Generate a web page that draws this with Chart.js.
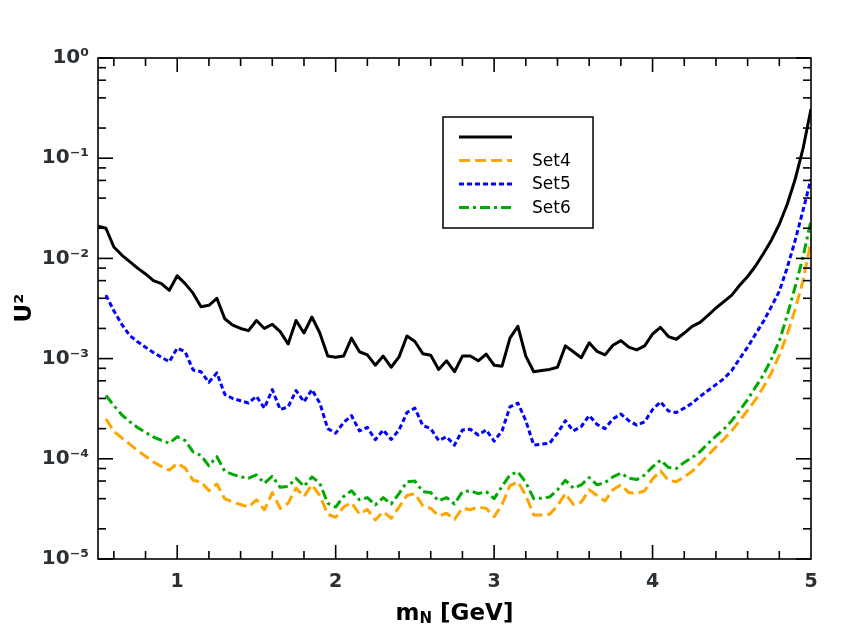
<!DOCTYPE html>
<html>
<head>
<meta charset="utf-8">
<script src="https://cdn.jsdelivr.net/npm/chart.js@4.4.0/dist/chart.umd.min.js"></script>
<style>
    html, body { margin: 0; padding: 0; background: #ffffff; }
    canvas { display: block; }
</style>
</head>
<body>
<canvas id="chart" width="848" height="642"></canvas>
<script>
"use strict";

// heavy neutrino mass grid [GeV]
const masses = [
    0.50, 0.55, 0.60, 0.65, 0.70, 0.75, 0.80, 0.85, 0.90, 0.95,
    1.00, 1.05, 1.10, 1.15, 1.20, 1.25, 1.30, 1.35, 1.40, 1.45,
    1.50, 1.55, 1.60, 1.65, 1.70, 1.75, 1.80, 1.85, 1.90, 1.95,
    2.00, 2.05, 2.10, 2.15, 2.20, 2.25, 2.30, 2.35, 2.40, 2.45,
    2.50, 2.55, 2.60, 2.65, 2.70, 2.75, 2.80, 2.85, 2.90, 2.95,
    3.00, 3.05, 3.10, 3.15, 3.20, 3.25, 3.30, 3.35, 3.40, 3.45,
    3.50, 3.55, 3.60, 3.65, 3.70, 3.75, 3.80, 3.85, 3.90, 3.95,
    4.00, 4.05, 4.10, 4.15, 4.20, 4.25, 4.30, 4.35, 4.40, 4.45,
    4.50, 4.55, 4.60, 4.65, 4.70, 4.75, 4.80, 4.85, 4.90, 4.95, 5.00
];

// unlabelled solid black curve
const limitBase = [
    0.021, 0.020, 0.013, 0.0108, 0.0093, 0.0080, 0.0070, 0.0060, 0.0056, 0.0048,
    0.0067, 0.0056, 0.0045, 0.0033, 0.0034, 0.0040, 0.0025, 0.00216, 0.0020, 0.0019,
    0.0024, 0.0020, 0.0022, 0.00186, 0.0014, 0.0024, 0.0018, 0.0026, 0.0018, 0.00106,
    0.00103, 0.00106, 0.0016, 0.00117, 0.00109, 0.00086, 0.00106, 0.00082, 0.00104, 0.00168,
    0.00148, 0.00112, 0.00108, 0.00078, 0.00095, 0.00074, 0.00106, 0.00106, 0.00095, 0.00111,
    0.00086, 0.00084, 0.0016, 0.0021, 0.00106, 0.00074, 0.00076, 0.00078, 0.00082, 0.00134,
    0.00117, 0.00102, 0.00144, 0.00118, 0.00109, 0.00136, 0.00151, 0.0013, 0.00122, 0.00134,
    0.00176, 0.00205, 0.00166, 0.00156, 0.0018, 0.0021, 0.0023, 0.0027, 0.0032, 0.0037,
    0.0043, 0.0054, 0.0066, 0.0084, 0.0112, 0.0152, 0.0219, 0.0347, 0.0616, 0.125, 0.31
];

const limitSet4 = [
    null, 2.5e-4, 1.88e-4, 1.62e-4, 1.4e-4, 1.21e-4, 1.06e-4, 9.3e-5, 8.4e-5, 7.7e-5,
    9.0e-5, 8.1e-5, 6.1e-5, 5.9e-5, 4.8e-5, 5.6e-5, 4.0e-5, 3.7e-5, 3.5e-5, 3.3e-5,
    3.9e-5, 3.1e-5, 4.6e-5, 3.2e-5, 3.6e-5, 5.1e-5, 4.2e-5, 5.5e-5, 4.3e-5, 2.8e-5,
    2.6e-5, 3.3e-5, 3.65e-5, 2.8e-5, 3.13e-5, 2.45e-5, 2.96e-5, 2.55e-5, 3.3e-5, 4.3e-5,
    4.5e-5, 3.4e-5, 3.2e-5, 2.69e-5, 2.86e-5, 2.49e-5, 3.2e-5, 3.1e-5, 3.3e-5, 3.2e-5,
    2.64e-5, 3.5e-5, 5.4e-5, 5.9e-5, 4.3e-5, 2.75e-5, 2.75e-5, 2.8e-5, 3.4e-5, 4.5e-5,
    3.5e-5, 3.7e-5, 4.9e-5, 4.3e-5, 3.8e-5, 4.9e-5, 5.5e-5, 4.6e-5, 4.5e-5, 4.8e-5,
    6.3e-5, 7.6e-5, 6.1e-5, 5.9e-5, 6.6e-5, 7.5e-5, 9.0e-5, 1.09e-4, 1.31e-4, 1.57e-4,
    1.91e-4, 2.4e-4, 3.05e-4, 3.9e-4, 5.2e-4, 7.2e-4, 1.08e-3, 1.75e-3, 3.1e-3, 6.0e-3, 1.5e-2
];

const limitSet5 = [
    null, 4.3e-3, 3.0e-3, 2.2e-3, 1.7e-3, 1.47e-3, 1.3e-3, 1.15e-3, 1.03e-3, 9.3e-4,
    1.27e-3, 1.17e-3, 7.7e-4, 7.4e-4, 5.8e-4, 7.2e-4, 4.4e-4, 4.0e-4, 3.8e-4, 3.6e-4,
    4.2e-4, 3.2e-4, 4.9e-4, 3.1e-4, 3.3e-4, 4.8e-4, 3.7e-4, 4.9e-4, 3.6e-4, 2.0e-4,
    1.8e-4, 2.3e-4, 2.7e-4, 1.9e-4, 2.06e-4, 1.55e-4, 1.94e-4, 1.56e-4, 1.94e-4, 2.9e-4,
    3.2e-4, 2.15e-4, 2.0e-4, 1.52e-4, 1.66e-4, 1.37e-4, 1.94e-4, 1.97e-4, 1.73e-4, 1.94e-4,
    1.5e-4, 1.9e-4, 3.3e-4, 3.6e-4, 2.4e-4, 1.37e-4, 1.4e-4, 1.43e-4, 1.8e-4, 2.4e-4,
    1.9e-4, 2.1e-4, 2.7e-4, 2.2e-4, 2.0e-4, 2.5e-4, 2.8e-4, 2.4e-4, 2.17e-4, 2.34e-4,
    3.1e-4, 3.7e-4, 3.0e-4, 2.9e-4, 3.2e-4, 3.6e-4, 4.2e-4, 4.8e-4, 5.5e-4, 6.3e-4,
    7.6e-4, 1.0e-3, 1.3e-3, 1.76e-3, 2.35e-3, 3.3e-3, 4.7e-3, 8.1e-3, 1.51e-2, 3.03e-2, 6.2e-2
];

const limitSet6 = [
    null, 4.3e-4, 3.4e-4, 2.75e-4, 2.35e-4, 2.05e-4, 1.83e-4, 1.65e-4, 1.53e-4, 1.43e-4,
    1.66e-4, 1.52e-4, 1.17e-4, 1.08e-4, 8.5e-5, 1.05e-4, 7.5e-5, 7.0e-5, 6.6e-5, 6.4e-5,
    6.9e-5, 5.7e-5, 6.7e-5, 5.2e-5, 5.3e-5, 6.4e-5, 5.3e-5, 6.6e-5, 5.7e-5, 3.6e-5,
    3.3e-5, 4.2e-5, 4.8e-5, 3.9e-5, 4.1e-5, 3.46e-5, 4.1e-5, 3.54e-5, 4.5e-5, 5.9e-5,
    6.0e-5, 4.7e-5, 4.6e-5, 3.8e-5, 4.1e-5, 3.54e-5, 4.7e-5, 4.8e-5, 4.5e-5, 4.7e-5,
    4.0e-5, 5.3e-5, 6.9e-5, 7.4e-5, 5.8e-5, 4.0e-5, 4.05e-5, 4.15e-5, 4.9e-5, 6.1e-5,
    5.1e-5, 5.5e-5, 6.5e-5, 5.5e-5, 5.8e-5, 6.6e-5, 7.2e-5, 6.4e-5, 6.2e-5, 6.9e-5,
    8.3e-5, 9.7e-5, 8.2e-5, 8.0e-5, 9.2e-5, 1.03e-4, 1.18e-4, 1.42e-4, 1.68e-4, 1.98e-4,
    2.4e-4, 3.05e-4, 3.9e-4, 5.2e-4, 6.9e-4, 9.9e-4, 1.5e-3, 2.7e-3, 5.2e-3, 1.04e-2, 2.4e-2
];

const seriesLabels = ['', 'Set4', 'Set5', 'Set6'];
const xTickValues = [1, 2, 3, 4, 5];
const yTickValues = [1e-5, 1e-4, 1e-3, 1e-2, 1e-1, 1];

const textColor = '#2b3035';

const toPoints = (ys) => masses.map((m, i) => ({x: m, y: ys[i]}));

const superDigits = {'0': '\u2070', '1': '\u00B9', '2': '\u00B2', '3': '\u00B3', '4': '\u2074',
    '5': '\u2075', '6': '\u2076', '7': '\u2077', '8': '\u2078', '9': '\u2079', '-': '\u207B'};
const powerLabel = (v) => {
    const exp = String(Math.round(Math.log10(v)));
    return '10' + exp.split('').map(c => superDigits[c]).join('');
};

// box frame plus inward ticks on all four sides
const frameTicks = {
    id: 'frameTicks',
    afterDraw(chart) {
        const {ctx, chartArea: {left, right, top, bottom}} = chart;
        const xs = chart.scales.x, ys = chart.scales.y;
        ctx.save();
        ctx.strokeStyle = '#000';
        ctx.lineWidth = 1.6;
        const seg = (x1, y1, x2, y2) => {
            ctx.beginPath(); ctx.moveTo(x1, y1); ctx.lineTo(x2, y2); ctx.stroke();
        };
        // x ticks: majors at integers, minors every 0.2
        for (let k = 3; k < 25; k++) {
            const v = k / 5;
            const major = k % 5 === 0;
            const len = major ? 14 : 8;
            const px = xs.getPixelForValue(v);
            seg(px, bottom, px, bottom - len);
            seg(px, top, px, top + len);
        }
        // y ticks: majors at decades, minors at 2,4,6,8
        for (let d = -5; d <= 0; d++) {
            [1, 2, 4, 6, 8].forEach(m => {
                const v = m * Math.pow(10, d);
                if (v > 1) return;
                const len = m === 1 ? 15 : 8;
                const py = ys.getPixelForValue(v);
                seg(left, py, left + len, py);
                seg(right, py, right - len, py);
            });
        }
        ctx.strokeRect(left, top, right - left, bottom - top);
        ctx.restore();
    }
};

// axis titles with sub/superscripts
const axisTitles = {
    id: 'axisTitles',
    afterDraw(chart) {
        const {ctx, chartArea: {left, right}} = chart;
        ctx.save();
        ctx.fillStyle = '#000';
        ctx.textBaseline = 'alphabetic';
        const big = 'bold 23px "DejaVu Sans", sans-serif';
        const small = 'bold 15px "DejaVu Sans", sans-serif';
        ctx.font = big;
        const wM = ctx.measureText('m').width;
        const wRest = ctx.measureText(' [GeV]').width;
        ctx.font = small;
        const wN = ctx.measureText('N').width;
        let x0 = (left + right) / 2 - (wM + wN + wRest) / 2;
        const base = 620;
        ctx.font = big;
        ctx.fillText('m', x0, base);
        ctx.font = small;
        ctx.fillText('N', x0 + wM, base + 3);
        ctx.font = big;
        ctx.fillText(' [GeV]', x0 + wM + wN, base);

        ctx.translate(31, 308);
        ctx.rotate(-Math.PI / 2);
        ctx.textAlign = 'center';
        ctx.fillText('U\u00B2', 0, 0);
        ctx.restore();
    }
};

// boxed legend inside the plot
const boxLegend = {
    id: 'boxLegend',
    afterDraw(chart) {
        const {ctx} = chart;
        ctx.save();
        ctx.fillStyle = '#fff';
        ctx.fillRect(443, 117, 150, 111);
        ctx.strokeStyle = '#000';
        ctx.lineWidth = 1.5;
        ctx.strokeRect(443, 117, 150, 111);
        const rows = [137, 160.5, 184, 207.5];
        chart.data.datasets.forEach((ds, i) => {
            ctx.strokeStyle = ds.borderColor;
            ctx.lineWidth = ds.borderWidth;
            ctx.setLineDash(ds.borderDash || []);
            ctx.beginPath();
            ctx.moveTo(459, rows[i]);
            ctx.lineTo(512, rows[i]);
            ctx.stroke();
            ctx.setLineDash([]);
            ctx.fillStyle = '#000';
            ctx.font = '17px "DejaVu Sans", sans-serif';
            ctx.textBaseline = 'middle';
            ctx.fillText(ds.label, 532, rows[i] + 1);
        });
        ctx.restore();
    }
};

const ctx = document.getElementById('chart').getContext('2d');

new Chart(ctx, {
    type: 'line',
    data: {
        datasets: [
            {
                label: seriesLabels[0],
                data: toPoints(limitBase),
                borderColor: '#000000',
                borderWidth: 3
            },
            {
                label: seriesLabels[1],
                data: toPoints(limitSet4),
                borderColor: '#FFA500',
                borderWidth: 3,
                borderDash: [11, 5]
            },
            {
                label: seriesLabels[2],
                data: toPoints(limitSet5),
                borderColor: '#0000FF',
                borderWidth: 3,
                borderDash: [5, 3]
            },
            {
                label: seriesLabels[3],
                data: toPoints(limitSet6),
                borderColor: '#00AA00',
                borderWidth: 3,
                borderDash: [10, 4, 3, 4]
            }
        ]
    },
    options: {
        responsive: false,
        animation: false,
        devicePixelRatio: 1,
        layout: {padding: {left: 0, right: 37, top: 58, bottom: 0}},
        elements: {
            point: {radius: 0},
            line: {tension: 0, fill: false, borderJoinStyle: 'round'}
        },
        plugins: {
            legend: {display: false},
            tooltip: {enabled: false},
            title: {display: false}
        },
        scales: {
            x: {
                type: 'linear',
                min: 0.5,
                max: 5,
                grid: {display: false, drawTicks: false},
                border: {display: false},
                afterBuildTicks: (scale) => {
                    scale.ticks = xTickValues.map(v => ({value: v}));
                },
                afterFit: (scale) => { scale.height = 83; },
                ticks: {
                    autoSkip: false,
                    maxRotation: 0,
                    padding: 12,
                    color: textColor,
                    font: {family: '"DejaVu Sans", sans-serif', size: 19, weight: 'bold'},
                    callback: (v) => String(v)
                }
            },
            y: {
                type: 'logarithmic',
                min: 1e-5,
                max: 1,
                grid: {display: false, drawTicks: false},
                border: {display: false},
                afterBuildTicks: (scale) => {
                    scale.ticks = yTickValues.map(v => ({value: v}));
                },
                afterFit: (scale) => { scale.width = 98; },
                ticks: {
                    autoSkip: false,
                    padding: 9,
                    color: textColor,
                    font: {family: '"DejaVu Sans", sans-serif', size: 20, weight: 'bold'},
                    callback: (v) => powerLabel(v)
                }
            }
        }
    },
    plugins: [frameTicks, axisTitles, boxLegend]
});
</script>
</body>
</html>
